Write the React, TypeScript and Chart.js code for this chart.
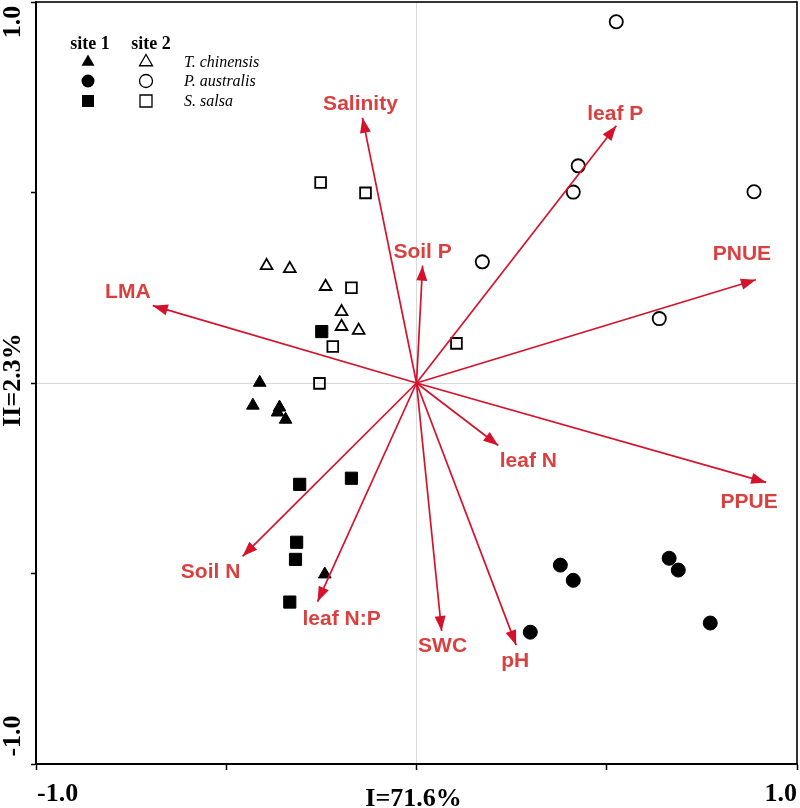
import React, { useEffect, useRef } from 'react';
import { Chart, registerables } from 'chart.js';

Chart.register(...registerables);

// ---- Site scores (RDA axis I, axis II) ----
const tcSite1: [number, number][] = [[-0.412, 0.001], [-0.430, -0.059], [-0.360, -0.064], [-0.365, -0.077], [-0.344, -0.096], [-0.241, -0.502]];
const tcSite2: [number, number][] = [[-0.394, 0.308], [-0.333, 0.300], [-0.239, 0.253], [-0.197, 0.187], [-0.197, 0.148], [-0.152, 0.138]];
const paSite1: [number, number][] = [[0.378, -0.478], [0.412, -0.518], [0.664, -0.460], [0.688, -0.491], [0.772, -0.630], [0.299, -0.654]];
const paSite2: [number, number][] = [[0.525, 0.948], [0.425, 0.570], [0.412, 0.501], [0.887, 0.502], [0.173, 0.318], [0.638, 0.169]];
const ssSite1: [number, number][] = [[-0.249, 0.135], [-0.307, -0.266], [-0.171, -0.250], [-0.315, -0.418], [-0.318, -0.463], [-0.333, -0.575]];
const ssSite2: [number, number][] = [[-0.252, 0.526], [-0.134, 0.499], [-0.171, 0.250], [-0.220, 0.096], [-0.255, -0.001], [0.105, 0.104]];

// ---- Environmental / trait vectors ----
const envNames = ['Salinity', 'Soil P', 'LMA', 'leaf P', 'PNUE', 'leaf N', 'PPUE', 'SWC', 'pH', 'Soil N', 'leaf N:P'];
const envX = [-0.142, 0.016, -0.693, 0.525, 0.892, 0.215, 0.919, 0.066, 0.262, -0.457, -0.260];
const envY = [0.696, 0.308, 0.203, 0.675, 0.271, -0.164, -0.261, -0.651, -0.688, -0.455, -0.574];

// ---- Axes ----
const axisTicks = [-1, -0.5, 0, 0.5, 1];
const tickLabelMin = '-1.0';
const tickLabelMax = '1.0';
const xTitle = 'I=71.6%';
const yTitle = 'II=2.3%';

// ---- Legend ----
const legendHeaders = ['site 1', 'site 2'];
const speciesNames = ['T. chinensis', 'P. australis', 'S. salsa'];

// layout-only: pixel offsets of vector labels from arrow tips
const labelOffsets: [number, number][] = [[-2, -14], [0, -13], [-25, -13], [-1, -12], [-14, -26], [30, 16], [-17, 20], [1, 15], [-1, 16], [-32, 16], [24, 18]];

const ARROW = '#d5122c';
const LABEL = '#d8413f';

const toPts = (arr: [number, number][]) => arr.map(([x, y]) => ({ x, y }));

function drawMarker(ctx: CanvasRenderingContext2D, shape: string, x: number, y: number, filled: boolean) {
  ctx.beginPath();
  if (shape === 'triangle') {
    const r = 7.5;
    ctx.moveTo(x, y - r);
    ctx.lineTo(x + r * 0.866, y + r / 2);
    ctx.lineTo(x - r * 0.866, y + r / 2);
    ctx.closePath();
  } else if (shape === 'circle') {
    ctx.arc(x, y, 6.5, 0, Math.PI * 2);
  } else {
    ctx.rect(x - 6, y - 6, 12, 12);
  }
  if (filled) {
    ctx.fillStyle = '#000';
    ctx.fill();
  } else {
    ctx.strokeStyle = '#000';
    ctx.lineWidth = 1.3;
    ctx.stroke();
  }
}

const ARROW_START = 6;

const decorPlugin = {
  id: 'decor',
  afterDatasetsDraw(chart: any) {
    const ctx: CanvasRenderingContext2D = chart.ctx;
    ctx.save();
    envNames.forEach((name, i) => {
      const meta = chart.getDatasetMeta(ARROW_START + i);
      const p0 = meta.data[0];
      const p1 = meta.data[1];
      const ang = Math.atan2(p1.y - p0.y, p1.x - p0.x);
      const len = 15;
      const hw = 5.5;
      const bx = p1.x - Math.cos(ang) * len;
      const by = p1.y - Math.sin(ang) * len;
      ctx.beginPath();
      ctx.moveTo(p1.x, p1.y);
      ctx.lineTo(bx + Math.sin(ang) * hw, by - Math.cos(ang) * hw);
      ctx.lineTo(bx - Math.sin(ang) * hw, by + Math.cos(ang) * hw);
      ctx.closePath();
      ctx.fillStyle = ARROW;
      ctx.fill();
      // label
      const [dx, dy] = labelOffsets[i];
      ctx.font = 'bold 21px "Liberation Sans", Arial, sans-serif';
      ctx.fillStyle = LABEL;
      ctx.textAlign = 'center';
      ctx.textBaseline = 'middle';
      ctx.fillText(name, p1.x + dx, p1.y + dy);
    });
    ctx.restore();
  },
  afterDraw(chart: any) {
    const ctx: CanvasRenderingContext2D = chart.ctx;
    const a = chart.chartArea;
    ctx.save();
    // frame
    ctx.strokeStyle = '#000';
    ctx.lineWidth = 1.6;
    ctx.strokeRect(a.left, a.top, a.right - a.left, a.bottom - a.top);

    // axis labels
    ctx.fillStyle = '#000';
    ctx.font = 'bold 26px "Liberation Serif", "Times New Roman", serif';
    ctx.textBaseline = 'alphabetic';
    ctx.textAlign = 'left';
    ctx.fillText(tickLabelMin, a.left + 1, 801);
    ctx.textAlign = 'right';
    ctx.fillText(tickLabelMax, a.right, 801);
    ctx.textAlign = 'center';
    ctx.fillText(xTitle, (a.left + a.right) / 2 - 3, 806);

    const vtext = (t: string, y: number) => {
      ctx.save();
      ctx.translate(20, y);
      ctx.rotate(-Math.PI / 2);
      ctx.textAlign = 'center';
      ctx.fillText(t, 0, 0);
      ctx.restore();
    };
    vtext(tickLabelMax, 22);
    vtext(yTitle, 380);
    vtext(tickLabelMin, 736);

    // legend
    ctx.font = 'bold 18px "Liberation Serif", "Times New Roman", serif';
    ctx.textAlign = 'center';
    ctx.textBaseline = 'alphabetic';
    ctx.fillText(legendHeaders[0], 90, 49);
    ctx.fillText(legendHeaders[1], 151, 49);
    const shapes = ['triangle', 'circle', 'rect'];
    const rows = [62, 81, 101];
    shapes.forEach((s, i) => {
      drawMarker(ctx, s, 88, rows[i], true);
      drawMarker(ctx, s, 146, rows[i], false);
    });
    ctx.font = 'italic 16px "Liberation Serif", "Times New Roman", serif';
    ctx.textAlign = 'left';
    ctx.textBaseline = 'middle';
    speciesNames.forEach((n, i) => ctx.fillText(n, 184, rows[i] + 1));
    ctx.restore();
  },
};

export default function App() {
  const ref = useRef<HTMLCanvasElement>(null);
  useEffect(() => {
    if (!ref.current) return;
    const filled = (data: [number, number][], style: string, r: number) => ({
      data: toPts(data),
      pointStyle: style,
      pointRadius: r,
      pointHoverRadius: r,
      backgroundColor: '#000',
      borderColor: '#000',
      borderWidth: 1,
      order: 1,
    });
    const open = (data: [number, number][], style: string, r: number) => ({
      data: toPts(data),
      pointStyle: style,
      pointRadius: r,
      pointHoverRadius: r,
      backgroundColor: 'rgba(255,255,255,0)',
      borderColor: '#000',
      borderWidth: 1.8,
      order: 1,
    });
    const arrows = envNames.map((n, i) => ({
      label: n,
      data: [{ x: 0, y: 0 }, { x: envX[i], y: envY[i] }],
      showLine: true,
      borderColor: ARROW,
      borderWidth: 1.7,
      pointRadius: 0,
      pointHoverRadius: 0,
      order: 0,
    }));
    const gridColor = (c: any) => (c.tick && c.tick.value === 0 ? '#d9d9d9' : 'rgba(0,0,0,0)');
    const chart = new Chart(ref.current, {
      type: 'scatter',
      data: {
        datasets: [
          filled(tcSite1, 'triangle', 7.3),
          open(tcSite2, 'triangle', 6.8),
          filled(paSite1, 'circle', 7),
          open(paSite2, 'circle', 6.6),
          filled(ssSite1, 'rect', 8.6),
          open(ssSite2, 'rect', 7.6),
          ...arrows,
        ] as any,
      },
      options: {
        animation: false,
        responsive: true,
        maintainAspectRatio: false,
        events: [],
        layout: { autoPadding: false, padding: { top: 2, right: 3, left: 0, bottom: 0 } },
        plugins: { legend: { display: false }, tooltip: { enabled: false } },
        scales: {
          x: {
            type: 'linear',
            min: -1,
            max: 1,
            afterBuildTicks: (s: any) => {
              s.ticks = axisTicks.map((v) => ({ value: v }));
            },
            afterFit: (s: any) => {
              s.height = 44;
            },
            ticks: { display: false },
            grid: { color: gridColor, lineWidth: 1, drawTicks: true, tickLength: 6, tickColor: '#000', tickWidth: 1.5 },
            border: { display: true, color: '#000', width: 2 },
          },
          y: {
            type: 'linear',
            min: -1,
            max: 1,
            afterBuildTicks: (s: any) => {
              s.ticks = axisTicks.map((v) => ({ value: v }));
            },
            afterFit: (s: any) => {
              s.width = 36;
            },
            ticks: { display: false },
            grid: { color: gridColor, lineWidth: 1, drawTicks: true, tickLength: 5, tickColor: '#000', tickWidth: 1.5 },
            border: { display: true, color: '#000', width: 2 },
          },
        },
      } as any,
      plugins: [decorPlugin],
    });
    return () => chart.destroy();
  }, []);
  return (
    <div style={{ position: 'absolute', left: 0, top: 0, width: 800, height: 808, background: '#fff' }}>
      <canvas ref={ref} />
    </div>
  );
}
